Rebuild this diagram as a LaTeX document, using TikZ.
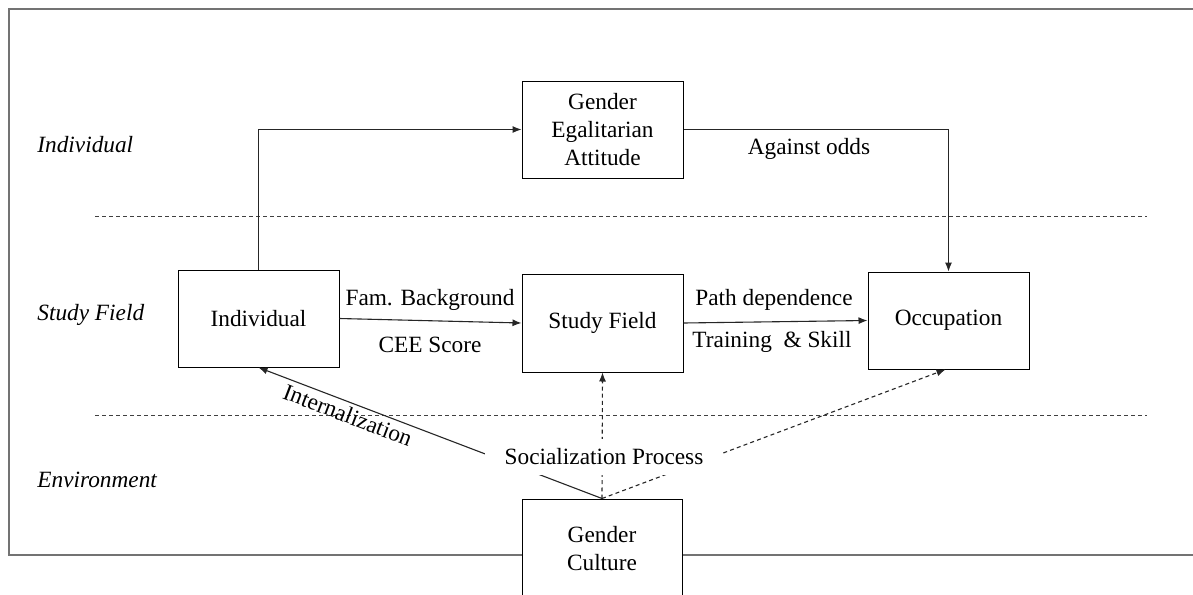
\documentclass[tikz,border=0pt]{standalone}
\usepackage{fontspec}
\setmainfont{Liberation Serif}
\usetikzlibrary{arrows.meta}
\tikzset{
  txt/.style={font=\fontsize{11.65}{14}\selectfont, inner sep=1pt, align=center},
  lane/.style={txt, font=\fontsize{11.65}{14}\selectfont\itshape, anchor=west},
  boxnode/.style={draw=black, line width=0.5pt, fill=white, minimum width=80.5pt, minimum height=48.5pt, txt},
  conn/.style={line width=0.55pt, draw=black!85, -{Latex[length=4.5pt,width=3.5pt]}},
  dconn/.style={conn, dash pattern=on 2pt off 1.6pt},
  sep/.style={line width=0.5pt, draw=black!75, dash pattern=on 2pt off 1.5pt},
  frame/.style={line width=0.8pt, draw=black!55}
}
\begin{document}
\begin{tikzpicture}[x=0.5pt, y=-0.5pt]
\useasboundingbox (0,0) rectangle (1193,594);
\clip (0,0) rectangle (1193,594);
\fill[white] (0,0) rectangle (1193,594);
% frame
\draw[frame] (1200,9) -- (9,9) -- (9,555) -- (1200,555);
% lane separators
\coordinate (s1a) at (95,216); \coordinate (s1b) at (1147,216);
\coordinate (s2a) at (95,415); \coordinate (s2b) at (1147,415);
\draw[sep] (s1a) -- (s1b);
\draw[sep] (s2a) -- (s2b);
% lane labels
\node[lane] (lInd) at (35,145) {Individual};
\node[lane] (lSF) at (35,315) {Study Field};
\node[lane] (lEnv) at (35,480) {Environment};
% boxes
\node[boxnode] (indiv) at (258.5,318.5) {Individual};
\node[boxnode] (gea) at (602.5,129.5) {Gender\\Egalitarian\\Attitude};
\node[boxnode, minimum height=49pt] (sf) at (602.5,323) {Study Field};
\node[boxnode] (occ) at (948.5,320.5) {Occupation};
\node[boxnode, minimum width=80pt, minimum height=50pt] (gc) at (602,549) {Gender\\Culture};
% connectors
\draw[conn] (indiv.north) |- (gea.west);
\draw[conn] (gea.east) -| (occ.north);
\draw[conn] (indiv.east) -- (sf.west);
\draw[conn] (sf.east) -- (occ.west);
\draw[conn] (gc.north) -- (indiv.south);
\draw[dconn] (gc.north) -- (sf.south);
\draw[dconn] (gc.north) -- ([xshift=-1.5pt]occ.south);
% labels
\node[txt] (lAg) at (809,149) {Against odds};
\node[txt] (lFam) at (430,300) {Fam. Background};
\node[txt] (lCEE) at (430,345) {CEE Score};
\node[txt] (lPath) at (774,300) {Path dependence};
\node[txt] (lTrain) at (772,342) {Training\ \ \& Skill};
\node[txt, rotate=-21, inner sep=0pt] (lInt) at (348,415) {Internalization};
\node[txt, fill=white, inner xsep=10pt, inner ysep=5pt] (lSoc) at (604,457) {Socialization Process};
\end{tikzpicture}
\end{document}
